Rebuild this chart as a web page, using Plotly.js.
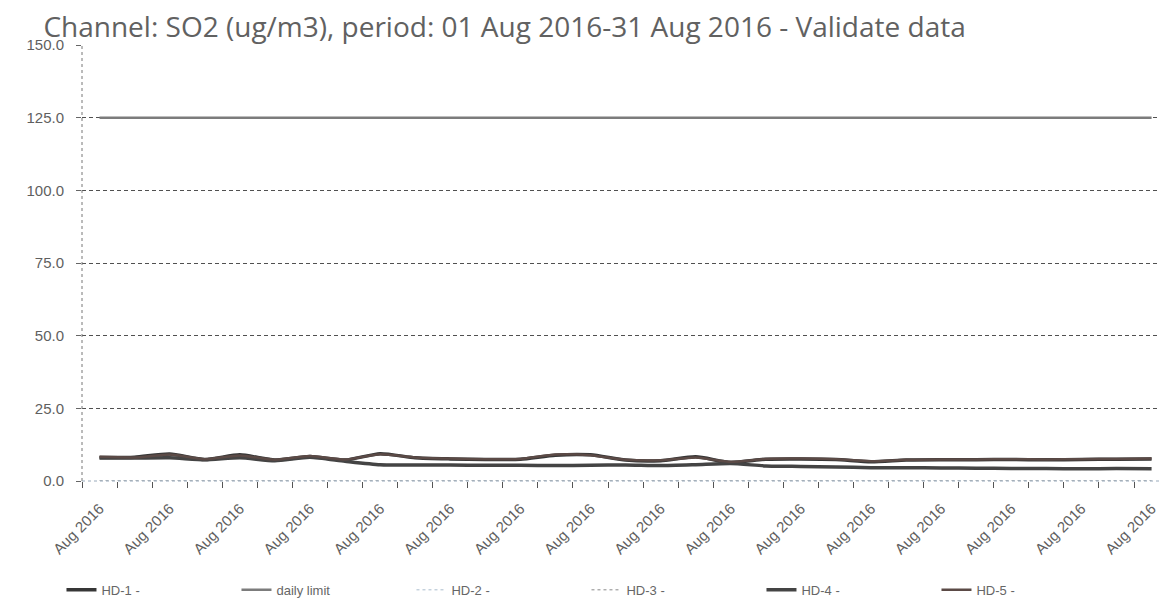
<!DOCTYPE html>
<html>
<head>
<meta charset="utf-8">
<script src="https://cdn.plot.ly/plotly-3.0.1.min.js"></script>
<style>html,body{margin:0;padding:0;background:#fff;}#chart{width:1160px;height:605px;}</style>
</head>
<body>
<div id="chart"></div>
<script>
// ---- data (daily averages) ----
const dates = [
  "2016-08-01 12:00","2016-08-02 12:00","2016-08-03 12:00","2016-08-04 12:00","2016-08-05 12:00",
  "2016-08-06 12:00","2016-08-07 12:00","2016-08-08 12:00","2016-08-09 12:00","2016-08-10 12:00",
  "2016-08-11 12:00","2016-08-12 12:00","2016-08-13 12:00","2016-08-14 12:00","2016-08-15 12:00",
  "2016-08-16 12:00","2016-08-17 12:00","2016-08-18 12:00","2016-08-19 12:00","2016-08-20 12:00",
  "2016-08-21 12:00","2016-08-22 12:00","2016-08-23 12:00","2016-08-24 12:00","2016-08-25 12:00",
  "2016-08-26 12:00","2016-08-27 12:00","2016-08-28 12:00","2016-08-29 12:00","2016-08-30 12:00",
  "2016-08-31 12:00"
];
const hd1 = [8.1,8.2,9.3,7.4,9.0,7.2,8.4,7.2,9.4,8.0,7.6,7.4,7.5,8.9,9.0,7.2,7.0,8.3,6.4,7.5,7.6,7.4,6.6,7.2,7.3,7.3,7.4,7.3,7.4,7.5,7.6];
const dailyLimit = [125,125,125,125,125,125,125,125,125,125,125,125,125,125,125,125,125,125,125,125,125,125,125,125,125,125,125,125,125,125,125];
const hd2 = [0,0,0,0,0,0,0,0,0,0,0,0,0,0,0,0,0,0,0,0,0,0,0,0,0,0,0,0,0,0,0];
const hd3 = [0,0,0,0,0,0,0,0,0,0,0,0,0,0,0,0,0,0,0,0,0,0,0,0,0,0,0,0,0,0,0];
const hd4 = [7.9,7.9,8.0,7.3,8.0,7.0,8.2,6.8,5.6,5.5,5.5,5.4,5.4,5.3,5.4,5.5,5.3,5.6,6.0,5.2,5.0,4.8,4.6,4.6,4.5,4.4,4.3,4.3,4.2,4.3,4.2];
const hd5 = [8.3,8.1,9.1,7.5,8.8,7.3,8.6,7.4,9.2,8.1,7.7,7.5,7.6,9.1,8.9,7.3,7.1,8.1,6.6,7.6,7.7,7.5,6.8,7.3,7.4,7.4,7.5,7.4,7.5,7.6,7.7];
const seriesNames = ["HD-1 -","daily limit","HD-2 -","HD-3 -","HD-4 -","HD-5 -"];
const labelDates = ["2016-08-01 12:00","2016-08-03 12:00","2016-08-05 12:00","2016-08-07 12:00","2016-08-09 12:00",
  "2016-08-11 12:00","2016-08-13 12:00","2016-08-15 12:00","2016-08-17 12:00","2016-08-19 12:00","2016-08-21 12:00",
  "2016-08-23 12:00","2016-08-25 12:00","2016-08-27 12:00","2016-08-29 12:00","2016-08-31 12:00"];
const tickLabel = "Aug 2016";
const titleText = "Channel: SO2 (ug/m3), period: 01 Aug 2016-31 Aug 2016 - Validate data";

// ---- layout helpers ----
const DAY = 86400000;
const t0 = Date.UTC(2016,7,1);
const xRange = [t0, t0 + 30.74*DAY];
const labelText = labelDates.map(() => tickLabel);

const tickFont = {family: "Liberation Sans, Arial, sans-serif", size: 15, color: "#5f5f5f"};

const traces = [
  {x: dates, y: hd1, name: seriesNames[0], mode: "lines", line: {color: "#363636", width: 3.5, shape: "spline", smoothing: 0.6}},
  {x: dates, y: dailyLimit, name: seriesNames[1], mode: "lines", xaxis: "x2", line: {color: "#7c7c7c", width: 2.5}},
  {x: dates, y: hd2, name: seriesNames[2], mode: "lines", line: {color: "#a9bccd", width: 1, dash: "dot"}},
  {x: dates, y: hd3, name: seriesNames[3], mode: "lines", line: {color: "#8a8a8a", width: 1, dash: "dot"}},
  {x: dates, y: hd4, name: seriesNames[4], mode: "lines", line: {color: "#444444", width: 3.5, shape: "spline", smoothing: 0.6}},
  {x: dates, y: hd5, name: seriesNames[5], mode: "lines", line: {color: "#5b4a46", width: 2.5, shape: "spline", smoothing: 0.6}}
];

const layout = {
  width: 1160, height: 605,
  margin: {l: 82, r: 0, t: 45, b: 124},
  paper_bgcolor: "#ffffff", plot_bgcolor: "#ffffff",
  showlegend: true,
  title: {text: titleText, font: {family: "Open Sans, sans-serif", size: 28, color: "#616161"},
          xref: "container", x: 0.435, xanchor: "center", yref: "container", y: 0.955, yanchor: "middle"},
  xaxis: {type: "date", range: xRange, tick0: "2016-08-01", dtick: DAY, ticks: "outside", ticklen: 6,
          tickcolor: "#555", showticklabels: false, showgrid: false, zeroline: false, showline: false},
  xaxis2: {type: "date", overlaying: "x", anchor: "y", side: "bottom", range: xRange,
           tickmode: "array", tickvals: labelDates, ticktext: labelText, tickangle: -45,
           ticks: "outside", ticklen: 12, tickcolor: "rgba(0,0,0,0)", tickfont: tickFont,
           showgrid: false, zeroline: false, showline: false},
  yaxis: {range: [0, 150], dtick: 25, tick0: 0, tickformat: ".1f", tickfont: tickFont,
          ticks: "outside", ticklen: 5, tickcolor: "#666", ticklabelstandoff: 9,
          showgrid: true, gridcolor: "#505050", griddash: "4px,3px", gridwidth: 1, zeroline: false, showline: false},
  shapes: [
    {type: "line", xref: "paper", yref: "paper", x0: 0, x1: 0, y0: 0, y1: 1, line: {color: "#777", width: 1, dash: "3px,3px"}},
    {type: "line", xref: "paper", yref: "paper", x0: 0, x1: 1, y0: 0, y1: 0, line: {color: "#9ab", width: 1, dash: "dot"}}
  ],
  legend: {orientation: "h", xref: "container", yref: "container", x: 0.053, y: 0.025, xanchor: "left", yanchor: "middle",
           entrywidth: 130, entrywidthmode: "pixels", font: {family: "Liberation Sans, Arial, sans-serif", size: 13, color: "#666"},
           bgcolor: "rgba(0,0,0,0)"}
};

Plotly.newPlot("chart", traces, layout, {displayModeBar: false, staticPlot: true});
</script>
</body>
</html>
